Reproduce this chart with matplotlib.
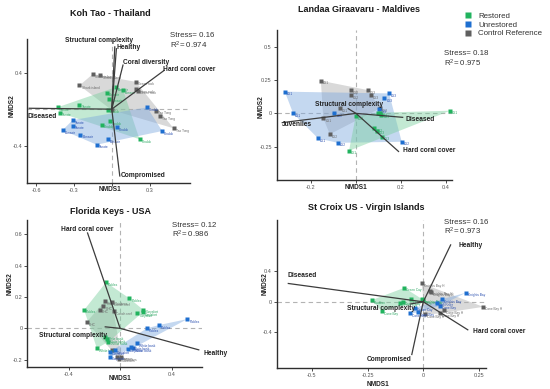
import numpy as np
import matplotlib
matplotlib.use('Agg')
import matplotlib.pyplot as plt
from matplotlib.lines import Line2D

plt.rcParams['font.family'] = ['Liberation Sans', 'DejaVu Sans']
plt.rcParams['mathtext.default'] = 'regular'

# ---------------- data ----------------
# Koh Tao - Thailand
kt_ctrl_x = [-0.256, -0.15, -0.09, 0.19, 0.19, 0.21, 0.35, 0.38, 0.49, 0.0]
kt_ctrl_y = [0.26, 0.385, 0.37, 0.30, 0.22, 0.20, -0.02, -0.08, -0.21, -0.01]
kt_ctrl_lab = ['Shark island', 'Shark island', 'Shark island', 'Green rock', 'Green rock',
               'Green rock', 'Tao Tong', 'Tao Tong', 'Tao Tong', '']
kt_rest_x = [-0.43, -0.41, -0.256, -0.04, -0.02, 0.03, 0.09, -0.03, -0.016, -0.08, 0.22]
kt_rest_y = [0.02, -0.04, 0.05, 0.18, 0.115, 0.24, 0.21, -0.005, -0.13, -0.17, -0.33]
kt_rest_lab = ['Tanote', 'Tanote', 'Tanote', 'Bonsoir', 'Bonsoir', 'Bonsoir', 'Bonsoir',
               'Chalok', 'Chalok', 'Chalok', 'Chalok']
kt_unre_x = [0.28, 0.40, 0.04, -0.31, -0.31, -0.39, -0.25, -0.12, -0.03]
kt_unre_y = [0.02, -0.24, -0.2, -0.12, -0.18, -0.23, -0.28, -0.39, -0.33]
kt_unre_lab = ['Chalok', 'Chalok', 'Chalok', 'Tanote', 'Tanote', 'Bonsoir', 'Bonsoir',
               'Tanote', 'Bonsoir']
kt_vec_names = ['Structural complexity', 'Healthy', 'Coral diversity', 'Hard coral cover',
                'Diseased', 'Compromised']
kt_vec_x = [0.024, 0.037, 0.09, 0.42, -0.66, 0.064]
kt_vec_y = [0.69, 0.67, 0.49, 0.43, 0.01, -0.74]
kt_stress = 0.16
kt_r2 = 0.974

# Landaa Giraavaru - Maldives
lg_ctrl_x = [-0.156, -0.022, -0.022, 0.052, 0.067, -0.071, -0.145, -0.116, 0.107]
lg_ctrl_y = [0.245, 0.175, 0.138, 0.175, 0.138, 0.038, -0.038, -0.156, 0.038]
lg_ctrl_lab = ['LG1', 'LG2', 'LG2', 'LG3', 'LG3', 'LG1', 'LG1', 'LG2', 'LG3']
lg_rest_x = [0.418, -0.001, 0.081, 0.092, 0.114, -0.031, 0.105, 0.112, 0.098]
lg_rest_y = [0.02, -0.02, -0.113, -0.13, -0.175, -0.281, 0.0, -0.01, 0.005]
lg_rest_lab = ['LG1', 'LG2', 'LG2', 'LG3', 'LG3', 'LG1', 'LG2', 'LG3', 'LG1']
lg_unre_x = [-0.316, -0.279, -0.168, -0.081, -0.096, 0.147, 0.126, 0.203, 0.10]
lg_unre_y = [0.163, 0.0, -0.188, -0.221, 0.0, 0.15, 0.113, -0.213, 0.03]
lg_unre_lab = ['LG1', 'LG1', 'LG1', 'LG2', 'LG2', 'LG3', 'LG3', 'LG2', 'LG3']
lg_vec_names = ['Structural complexity', 'Hard coral cover', 'Diseased', 'Juveniles']
lg_vec_x = [-0.037, 0.191, 0.21, -0.33]
lg_vec_y = [0.038, -0.289, -0.03, -0.07]
lg_stress = 0.18
lg_r2 = 0.975

# Florida Keys - USA
fk_ctrl_x = [-0.116, -0.129, -0.155, -0.064, -0.051, -0.26, -0.021, -0.005, 0.01, -0.06]
fk_ctrl_y = [0.174, 0.142, 0.117, 0.166, 0.11, 0.04, -0.181, -0.195, -0.185, -0.14]
fk_ctrl_lab = ['Hen&Chickens', 'CHC', 'CHC', 'Conch reef', 'Conch reef', 'CHC',
               'Molasses', 'Molasses', 'Molasses', '']
fk_rest_x = [-0.109, 0.072, -0.279, 0.181, 0.176, 0.135, -0.116, -0.09, -0.18, -0.10]
fk_rest_y = [0.293, 0.191, 0.117, 0.117, 0.102, 0.096, -0.053, -0.085, -0.127, -0.07]
fk_rest_lab = ['Pickles', 'Pickles', 'Pickles', 'Carysfort', 'Carysfort', 'Carysfort',
               'White bank', 'White bank', 'White bank', 'White bank']
fk_unre_x = [0.522, 0.302, 0.207, 0.129, 0.083, 0.098, -0.039, -0.078, -0.078, 0.06]
fk_unre_y = [0.059, 0.021, 0.0, -0.096, -0.117, -0.127, -0.138, -0.149, -0.181, -0.13]
fk_unre_lab = ['Pickles', 'Pickles', 'Pickles', 'White bank', 'White bank', 'White bank',
               'Carysfort', 'Carysfort', 'Carysfort', 'Carysfort']
fk_vec_names = ['Hard coral cover', 'Healthy', 'Structural complexity']
fk_vec_x = [-0.254, 0.615, -0.12]
fk_vec_y = [0.611, -0.138, 0.01]
fk_stress = 0.12
fk_r2 = 0.986

# St Croix US - Virgin Islands
sc_ctrl_x = [-0.007, 0.030, 0.035, 0.269, 0.094, 0.008, 0.075]
sc_ctrl_y = [0.242, 0.141, 0.123, -0.066, -0.109, -0.166, -0.153]
sc_ctrl_lab = ['Knights Bay H', 'Knights Bay H', 'Knights Bay H', 'Cane Bay H',
               'Cane Bay H', 'Cane Bay H', 'Cane Bay H']
sc_rest_x = [-0.085, -0.231, -0.187, -0.104, -0.055, 0.0, -0.09, -0.005]
sc_rest_y = [0.184, 0.022, -0.122, -0.009, 0.035, 0.022, 0.0, 0.035]
sc_rest_lab = ['Green Cay', 'Pauldun', 'Cane Bay', 'Green Cay', 'Green Cay',
               'Knights Bay', 'Green Cay', 'Knights Bay']
sc_unre_x = [0.19, 0.085, 0.06, 0.075, -0.037, -0.06, -0.025]
sc_unre_y = [0.118, 0.035, -0.009, -0.053, -0.079, -0.153, -0.14]
sc_unre_lab = ['Knights Bay', 'Knights Bay', 'Salt River', 'Cane Bay', 'Green Cay',
               'Cane Bay', 'Cane Bay']
sc_vec_names = ['Healthy', 'Diseased', 'Hard coral cover', 'Compromised',
                'Structural complexity']
sc_vec_x = [0.124, -0.608, 0.202, -0.052, -0.06]
sc_vec_y = [0.755, 0.242, -0.372, -0.70, -0.03]
sc_stress = 0.16
sc_r2 = 0.973

# ---------------- styling ----------------
GREEN = '#21b35e'
BLUE = '#1e6fd0'
GRAY = '#5f5f5f'
FILL = {GREEN: ('#7acf9e', 0.45), BLUE: ('#7ea9de', 0.45), GRAY: ('#ababab', 0.45)}
LABCOL = {GREEN: '#2fa865', BLUE: '#2a4fb0', GRAY: '#6a6a6a'}
VEC_COL = '#3c3c3c'


def hull(xs, ys):
    pts = sorted(set(zip(xs, ys)))
    if len(pts) < 3:
        return pts

    def cross(o, a, b):
        return (a[0] - o[0]) * (b[1] - o[1]) - (a[1] - o[1]) * (b[0] - o[0])
    lower, upper = [], []
    for p in pts:
        while len(lower) >= 2 and cross(lower[-2], lower[-1], p) <= 0:
            lower.pop()
        lower.append(p)
    for p in reversed(pts):
        while len(upper) >= 2 and cross(upper[-2], upper[-1], p) <= 0:
            upper.pop()
        upper.append(p)
    return lower[:-1] + upper[:-1]


def draw_group(ax, xs, ys, labs, col):
    h = np.array(hull(xs, ys))
    fc, a = FILL[col]
    ax.fill(h[:, 0], h[:, 1], color=fc, alpha=a, lw=0, zorder=1)
    ax.plot(xs, ys, 's', ms=2.2, color=col, mec='none', zorder=4)
    for x, y, t in zip(xs, ys, labs):
        ax.annotate(t, (x, y), xytext=(1.5, -1.8), textcoords='offset points',
                    fontsize=2.3, color=LABCOL[col], ha='left', va='center', zorder=4)


def setup(ax, xlim, ylim, xt, xtl, yt):
    ax.set_xlim(*xlim)
    ax.set_ylim(*ylim)
    for s in ['top', 'right']:
        ax.spines[s].set_visible(False)
    for s in ['left', 'bottom']:
        ax.spines[s].set_linewidth(1.0)
        ax.spines[s].set_color('#2e2e2e')
    ax.set_xticks(xt)
    ax.set_xticklabels(xtl)
    ax.set_yticks(yt)
    ax.set_yticklabels([('%g' % v) for v in yt])
    ax.tick_params(direction='out', length=2, width=0.6, pad=1.5, labelsize=4,
                   labelcolor='#555555', color='#2e2e2e')
    ax.axhline(0, color='#b3b3b3', lw=0.8, ls=(0, (4, 3)), zorder=0)
    ax.axvline(0, color='#b3b3b3', lw=0.8, ls=(0, (4, 3)), zorder=0)
    ax.patch.set_alpha(0)


def vectors(ax, names, vx, vy, offs):
    for n, x, y, (dx, dy) in zip(names, vx, vy, offs):
        ax.plot([0, x], [0, y], color=VEC_COL, lw=0.9, zorder=5, solid_capstyle='butt')
        ax.annotate(n, (x, y), xytext=(dx, dy), textcoords='offset points', fontsize=4.8,
                    fontweight='bold', color='#222222', ha='center', va='center', zorder=6,
                    annotation_clip=False)


def stats(ax, x, y1, y2, stress, r2):
    ax.text(x, y1, 'Stress= %.2f' % stress, transform=ax.transAxes, fontsize=5.7,
            color='#333333', ha='left', va='center')
    ax.text(x, y2, 'R$^{2}$= %.3f' % r2, transform=ax.transAxes, fontsize=5.7,
            color='#333333', ha='left', va='center')


def axis_labels(ax, x1, y1, x2, y2):
    ax.set_xlabel('NMDS1', fontsize=4.7, fontweight='bold', color='#222222')
    ax.xaxis.set_label_coords(x1, y1)
    ax.xaxis.label.set_va('center')
    ax.set_ylabel('NMDS2', fontsize=4.7, fontweight='bold', color='#222222')
    ax.yaxis.set_label_coords(x2, y2)
    ax.yaxis.label.set_va('center')


W, H = 550, 389
fig = plt.figure(figsize=(5.5, 3.89), dpi=100)

ax1 = fig.add_axes([0.0496, 0.5296, 0.2958, 0.3702])
ax2 = fig.add_axes([0.5031, 0.5373, 0.3182, 0.3856])
ax3 = fig.add_axes([0.0496, 0.0558, 0.3171, 0.3787])
ax4 = fig.add_axes([0.5036, 0.0548, 0.3795, 0.3797])

# Koh Tao
setup(ax1, (-0.67, 0.62), (-0.81, 0.77), [-0.6, -0.3, 0, 0.3], ['-0.6', '-0.3', '', '0.3'],
      [-0.4, 0.4])
draw_group(ax1, kt_ctrl_x, kt_ctrl_y, kt_ctrl_lab, GRAY)
draw_group(ax1, kt_rest_x, kt_rest_y, kt_rest_lab, GREEN)
draw_group(ax1, kt_unre_x, kt_unre_y, kt_unre_lab, BLUE)
vectors(ax1, kt_vec_names, kt_vec_x, kt_vec_y,
        [(-11.5, 4.1), (8.9, 0.4), (16.8, 1.2), (17.8, 0), (9.9, -6.0), (17.1, 0.7)])
stats(ax1, 0.877, 1.021, 0.958, kt_stress, kt_r2)
axis_labels(ax1, 0.508, -0.045, -0.094, 0.54)

# Landaa Giraavaru
setup(ax2, (-0.352, 0.425), (-0.50, 0.626), [-0.2, 0, 0.2, 0.4], ['-0.2', '', '0.2', '0.4'],
      [-0.25, 0, 0.25, 0.5])
draw_group(ax2, lg_ctrl_x, lg_ctrl_y, lg_ctrl_lab, GRAY)
draw_group(ax2, lg_unre_x, lg_unre_y, lg_unre_lab, BLUE)
draw_group(ax2, lg_rest_x, lg_rest_y, lg_rest_lab, GREEN)
vectors(ax2, lg_vec_names, lg_vec_x, lg_vec_y,
        [(1.3, 3.0), (21.7, 1.2), (12.2, -1.4), (10.7, -1.0)])
stats(ax2, 0.958, 0.84, 0.78, lg_stress, lg_r2)
axis_labels(ax2, 0.451, -0.051, -0.09, 0.49)

# Florida Keys
setup(ax3, (-0.72, 0.633), (-0.248, 0.69), [-0.4, 0, 0.4], ['-0.4', '', '0.4'],
      [-0.2, 0, 0.2, 0.4, 0.6])
draw_group(ax3, fk_ctrl_x, fk_ctrl_y, fk_ctrl_lab, GRAY)
draw_group(ax3, fk_rest_x, fk_rest_y, fk_rest_lab, GREEN)
draw_group(ax3, fk_unre_x, fk_unre_y, fk_unre_lab, BLUE)
vectors(ax3, fk_vec_names, fk_vec_x, fk_vec_y,
        [(-0.4, 2.2), (11.9, -2.4), (-22.5, -6.0)])
stats(ax3, 0.828, 0.961, 0.905, fk_stress, fk_r2)
axis_labels(ax3, 0.532, -0.075, -0.1, 0.57)

# St Croix
setup(ax4, (-0.656, 0.28), (-0.865, 1.075), [-0.5, -0.25, 0, 0.25],
      ['-0.5', '-0.25', '0', '0.25'], [-0.4, 0, 0.4])
draw_group(ax4, sc_rest_x, sc_rest_y, sc_rest_lab, GREEN)
draw_group(ax4, sc_ctrl_x, sc_ctrl_y, sc_ctrl_lab, GRAY)
draw_group(ax4, sc_unre_x, sc_unre_y, sc_unre_lab, BLUE)
vectors(ax4, sc_vec_names, sc_vec_x, sc_vec_y,
        [(14.2, -0.5), (10.1, 5.5), (22.2, -1.2), (-16.5, -3.0), (-20.6, -3.1)])
stats(ax4, 0.80, 0.984, 0.921, sc_stress, sc_r2)
axis_labels(ax4, 0.484, -0.112, -0.057, 0.57)

# titles
titles = ['Koh Tao - Thailand', 'Landaa Giraavaru - Maldives', 'Florida Keys - USA',
          'St Croix US - Virgin Islands']
title_px = [(110.7, 14), (359.3, 9.3), (111, 211), (366, 207.7)]
for t, (px, py) in zip(titles, title_px):
    fig.text(px / W, 1 - py / H, t, fontsize=6.5, fontweight='bold', color='#1a1a1a',
             ha='center', va='center')

# legend
handles = [Line2D([], [], marker='s', ls='none', ms=4, color=c, mec='none')
           for c in [GREEN, BLUE, GRAY]]
fig.legend(handles, ['Restored', 'Unrestored', 'Control Reference'],
           loc='upper left', bbox_to_anchor=(465 / W, 1 - 12.6 / H), frameon=False,
           fontsize=5.7, handlelength=0.8, handletextpad=0.9, labelspacing=0.14,
           borderpad=0, borderaxespad=0, labelcolor='#333333')

fig.savefig('out.png', dpi=100)
